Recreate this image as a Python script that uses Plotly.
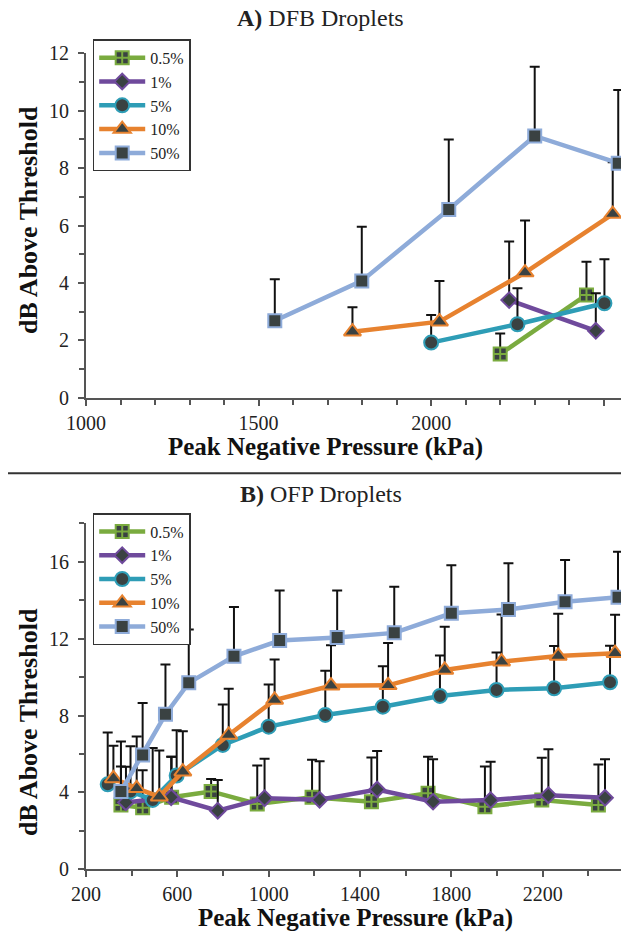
import plotly.graph_objects as go

# ---------------- DATA ----------------
series_names = ["0.5%", "1%", "5%", "10%", "50%"]

# A) DFB droplets
dfb_05_x = [2200, 2450]
dfb_05_y = [1.52, 3.58]
dfb_05_err = [0.72, 1.16]

dfb_1_x = [2226, 2477]
dfb_1_y = [3.40, 2.33]
dfb_1_err = [2.04, 1.31]

dfb_5_x = [2000, 2250, 2502]
dfb_5_y = [1.92, 2.56, 3.29]
dfb_5_err = [0.96, 1.25, 1.53]

dfb_10_x = [1772, 2024, 2272, 2526]
dfb_10_y = [2.30, 2.65, 4.36, 6.40]
dfb_10_err = [0.85, 1.42, 1.81, 1.80]

dfb_50_x = [1547, 1799, 2051, 2300, 2542]
dfb_50_y = [2.68, 4.07, 6.56, 9.12, 8.17]
dfb_50_err = [1.45, 1.89, 2.44, 2.41, 2.55]

# B) OFP droplets
ofp_05_x = [353, 448, 575, 748, 950, 1190, 1450, 1698, 1947, 2196, 2444]
ofp_05_y = [3.35, 3.20, 3.75, 4.05, 3.40, 3.75, 3.52, 3.95, 3.25, 3.60, 3.35]
ofp_05_err = [2.0, 1.95, 2.1, 0.65, 2.0, 1.95, 2.3, 1.9, 2.1, 2.2, 2.1]

ofp_1_x = [375, 573, 777, 982, 1223, 1475, 1720, 1972, 2225, 2473]
ofp_1_y = [3.48, 3.75, 3.05, 3.70, 3.62, 4.15, 3.52, 3.60, 3.85, 3.72]
ofp_1_err = [1.85, 2.1, 1.6, 2.05, 2.0, 2.0, 2.2, 2.0, 2.4, 2.0]

ofp_5_x = [295, 395, 492, 597, 799, 1000, 1248, 1500, 1750, 1998, 2250, 2495]
ofp_5_y = [4.42, 4.05, 3.61, 4.88, 6.47, 7.42, 8.03, 8.46, 9.02, 9.33, 9.42, 9.73]
ofp_5_err = [2.7, 2.35, 2.7, 2.35, 2.1, 2.2, 2.3, 2.1, 2.1, 1.95, 2.2, 1.9]

ofp_10_x = [320, 422, 521, 624, 825, 1026, 1273, 1523, 1771, 2020, 2268, 2517]
ofp_10_y = [4.73, 4.21, 3.78, 5.08, 6.99, 8.81, 9.55, 9.57, 10.37, 10.80, 11.10, 11.24]
ofp_10_err = [1.7, 2.7, 2.4, 2.1, 2.4, 2.1, 2.1, 2.2, 2.25, 2.45, 2.2, 2.0]

ofp_50_x = [353, 448, 548, 650, 848, 1048, 1300, 1550, 1800, 2050, 2298, 2530]
ofp_50_y = [4.05, 5.95, 8.06, 9.70, 11.08, 11.90, 12.06, 12.30, 13.32, 13.52, 13.92, 14.15]
ofp_50_err = [2.6, 2.7, 2.6, 2.78, 2.57, 2.6, 2.45, 2.4, 2.5, 2.4, 2.17, 2.37]

# ---------------- STYLE ----------------
colors = ["#7aab3f", "#6f4a9c", "#2e9db6", "#e7822f", "#8eabd9"]
symbols = ["square-cross", "diamond", "circle", "triangle-up", "square"]
sizes = [13, 12, 14, 15, 13]
fill = "#3a4242"
FONT = "Liberation Serif"

W, H = 621, 934
L = 86
plot_w = W - L

def px_x(px):
    return (px - L) / plot_w

def px_y(py):
    return 1 - py / H

fig = go.Figure()

top_data = [(dfb_05_x, dfb_05_y, dfb_05_err), (dfb_1_x, dfb_1_y, dfb_1_err),
            (dfb_5_x, dfb_5_y, dfb_5_err), (dfb_10_x, dfb_10_y, dfb_10_err),
            (dfb_50_x, dfb_50_y, dfb_50_err)]
bot_data = [(ofp_05_x, ofp_05_y, ofp_05_err), (ofp_1_x, ofp_1_y, ofp_1_err),
            (ofp_5_x, ofp_5_y, ofp_5_err), (ofp_10_x, ofp_10_y, ofp_10_err),
            (ofp_50_x, ofp_50_y, ofp_50_err)]

def add(data, xa, ya, leg):
    for i, (xs, ys, es) in enumerate(data):
        fig.add_trace(go.Scatter(
            x=xs, y=ys, mode="lines+markers", name=series_names[i],
            xaxis=xa, yaxis=ya, legend=leg, cliponaxis=False,
            line=dict(color=colors[i], width=4.5),
            marker=dict(symbol=symbols[i], size=sizes[i], color=fill,
                        line=dict(color=colors[i], width=2)),
            error_y=dict(type="data", array=es, arrayminus=[0] * len(es),
                         symmetric=False, color="#111111", thickness=2, width=5),
        ))

add(top_data, "x", "y", "legend")
add(bot_data, "x2", "y2", "legend2")

axis_common = dict(showline=True, linecolor="#555555", linewidth=2,
                   ticks="outside", ticklen=6, tickwidth=2, tickcolor="#555555",
                   showgrid=False, zeroline=False, automargin=False,
                   tickfont=dict(family=FONT, size=20, color="#222222"))

minor_style = dict(ticks="outside", ticklen=5, tickwidth=2, tickcolor="#555555")

top_dom = [px_y(397.7), px_y(53.3)]
bot_dom = [px_y(869.3), px_y(523.3)]

legend_style = dict(xanchor="left", yanchor="top", bgcolor="white",
                    bordercolor="#333333", borderwidth=1.5, itemwidth=46,
                    font=dict(family=FONT, size=16, color="#222222"),
                    tracegroupgap=0)

fig.update_layout(
    width=W, height=H, margin=dict(l=L, r=0, t=0, b=0, autoexpand=False),
    paper_bgcolor="white", plot_bgcolor="white",
    font=dict(family=FONT, color="#222222"),
    xaxis=dict(domain=[0, 1], range=[1000, 2550], tick0=1000, dtick=500, anchor="y",
               minor=dict(dtick=100, **minor_style), **axis_common),
    yaxis=dict(domain=top_dom, range=[0, 12], dtick=2, anchor="x", ticklabelstandoff=5,
               minor=dict(dtick=1, **minor_style), **axis_common),
    xaxis2=dict(domain=[0, 1], range=[200, 2543], tick0=200, dtick=400, anchor="y2",
                minor=dict(dtick=200, **minor_style), **axis_common),
    yaxis2=dict(domain=bot_dom, range=[0, 18], dtick=4, anchor="x2", ticklabelstandoff=5,
                minor=dict(dtick=2, **minor_style), **axis_common),
    legend=dict(x=px_x(92.7), y=px_y(39.3), **legend_style),
    legend2=dict(x=px_x(92.7), y=px_y(513), **legend_style),
    showlegend=True,
)

title_font = dict(family=FONT, size=24, color="#222222")
xt_font = dict(family=FONT, size=25, color="#111111")
yt_font = dict(family=FONT, size=26, color="#111111")
annotations = [
    dict(text="<b>A)</b> DFB Droplets", x=px_x(320), y=px_y(18), font=title_font),
    dict(text="<b>B)</b> OFP Droplets", x=px_x(321), y=px_y(494), font=title_font),
    dict(text="<b>Peak Negative Pressure (kPa)</b>", x=px_x(325), y=px_y(447), font=xt_font),
    dict(text="<b>Peak Negative Pressure (kPa)</b>", x=px_x(355), y=px_y(918), font=xt_font),
    dict(text="<b>dB Above Threshold</b>", x=px_x(28), y=px_y(220), textangle=-90, font=yt_font),
    dict(text="<b>dB Above Threshold</b>", x=px_x(28), y=px_y(722), textangle=-90, font=yt_font),
]
for a in annotations:
    a.update(xref="paper", yref="paper", showarrow=False, xanchor="center", yanchor="middle")
    fig.add_annotation(**a)

fig.add_shape(type="line", xref="paper", yref="paper",
              x0=px_x(8), x1=1.02, y0=px_y(473.3), y1=px_y(473.3),
              line=dict(color="#333333", width=2))

fig.write_html("out.html")
